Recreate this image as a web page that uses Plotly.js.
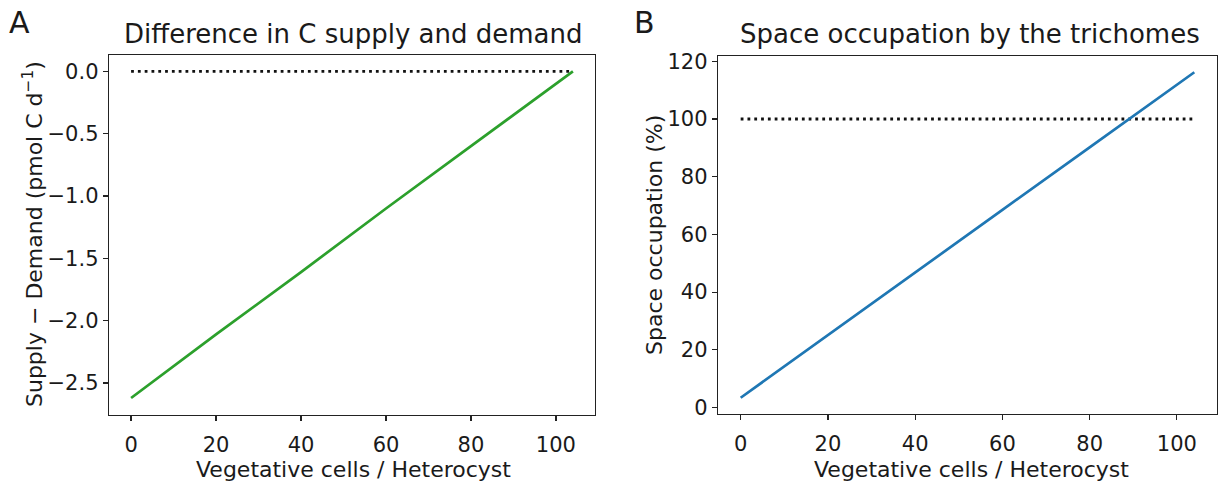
<!DOCTYPE html>
<html><head><meta charset="utf-8">
<script src="https://cdn.plot.ly/plotly-3.0.1.min.js"></script>
<style>body{margin:0;background:#fff}#chart{width:1219px;height:487px}</style>
</head><body><div id="chart"></div>
<script>
// Data
const cellsPerHeterocyst = [0, 20, 40, 60, 80, 104];
const supplyMinusDemand = [-2.62, -2.11, -1.61, -1.10, -0.60, 0.0];
const spaceOccupation = [3.4, 25.0, 46.8, 68.5, 90.2, 116.2];
const refX = [0, 104];
const refBalance = [0, 0];
const refFull = [100, 100];
const xTicks = [0, 20, 40, 60, 80, 100];
const yTicksA = [0.0, -0.5, -1.0, -1.5, -2.0, -2.5];
const yTicksB = [0, 20, 40, 60, 80, 100, 120];

const W = 1219, H = 487;
const px = v => v / W, py = v => 1 - v / H;
const FONT = 'DejaVu Sans, sans-serif';
const TXT = '#1a1a1a';
const dotted = {color: '#111', width: 2.8, dash: '2.8px,4px'};

const traces = [
  {x: refX, y: refBalance, mode: 'lines', line: dotted, xaxis: 'x', yaxis: 'y', hoverinfo: 'skip'},
  {x: cellsPerHeterocyst, y: supplyMinusDemand, mode: 'lines', line: {color: '#2ca02c', width: 2.7}, xaxis: 'x', yaxis: 'y'},
  {x: refX, y: refFull, mode: 'lines', line: dotted, xaxis: 'x2', yaxis: 'y2', hoverinfo: 'skip'},
  {x: cellsPerHeterocyst, y: spaceOccupation, mode: 'lines', line: {color: '#1f77b4', width: 2.7}, xaxis: 'x2', yaxis: 'y2'}
];

const axisBase = {
  showline: true, mirror: true, linecolor: '#222', linewidth: 1.3,
  ticks: 'outside', ticklen: 5, tickwidth: 1.2, tickcolor: '#222',
  showgrid: false, zeroline: false,
  tickfont: {family: FONT, size: 21, color: TXT}
};

const ann = (text, x, y, size, angle) => ({
  text, x: px(x), y: py(y), xref: 'paper', yref: 'paper',
  xanchor: 'center', yanchor: 'middle', showarrow: false,
  textangle: angle || 0, font: {family: FONT, size, color: TXT}
});

const layout = {
  width: W, height: H, showlegend: false,
  paper_bgcolor: '#fff', plot_bgcolor: '#fff',
  margin: {l: 0, r: 0, t: 0, b: 0},
  xaxis: Object.assign({}, axisBase, {domain: [px(109), px(595)], range: [-5.2, 109.2], tickvals: xTicks, anchor: 'y', ticklabelstandoff: 5}),
  yaxis: Object.assign({}, axisBase, {domain: [py(415), py(55)], range: [-2.756, 0.131], tickvals: yTicksA, tickformat: '.1f', anchor: 'x'}),
  xaxis2: Object.assign({}, axisBase, {domain: [px(718), px(1217)], range: [-5.2, 109.2], tickvals: xTicks, anchor: 'y2', ticklabelstandoff: 5}),
  yaxis2: Object.assign({}, axisBase, {domain: [py(414), py(56)], range: [-2.24, 121.84], tickvals: yTicksB, anchor: 'x2'}),
  annotations: [
    ann('A', 19, 22, 30),
    ann('B', 644, 22, 30),
    ann('Difference in C supply and demand', 353, 34, 26),
    ann('Space occupation by the trichomes', 970, 34, 26),
    ann('Vegetative cells / Heterocyst', 353, 469, 22),
    ann('Vegetative cells / Heterocyst', 971, 469, 22),
    ann('Supply − Demand (pmol C d<sup>−1</sup>)', 33, 234, 22, -90),
    ann('Space occupation (%)', 654, 235, 22, -90)
  ]
};

Plotly.newPlot('chart', traces, layout, {displayModeBar: false, staticPlot: true});
</script>
</body></html>
